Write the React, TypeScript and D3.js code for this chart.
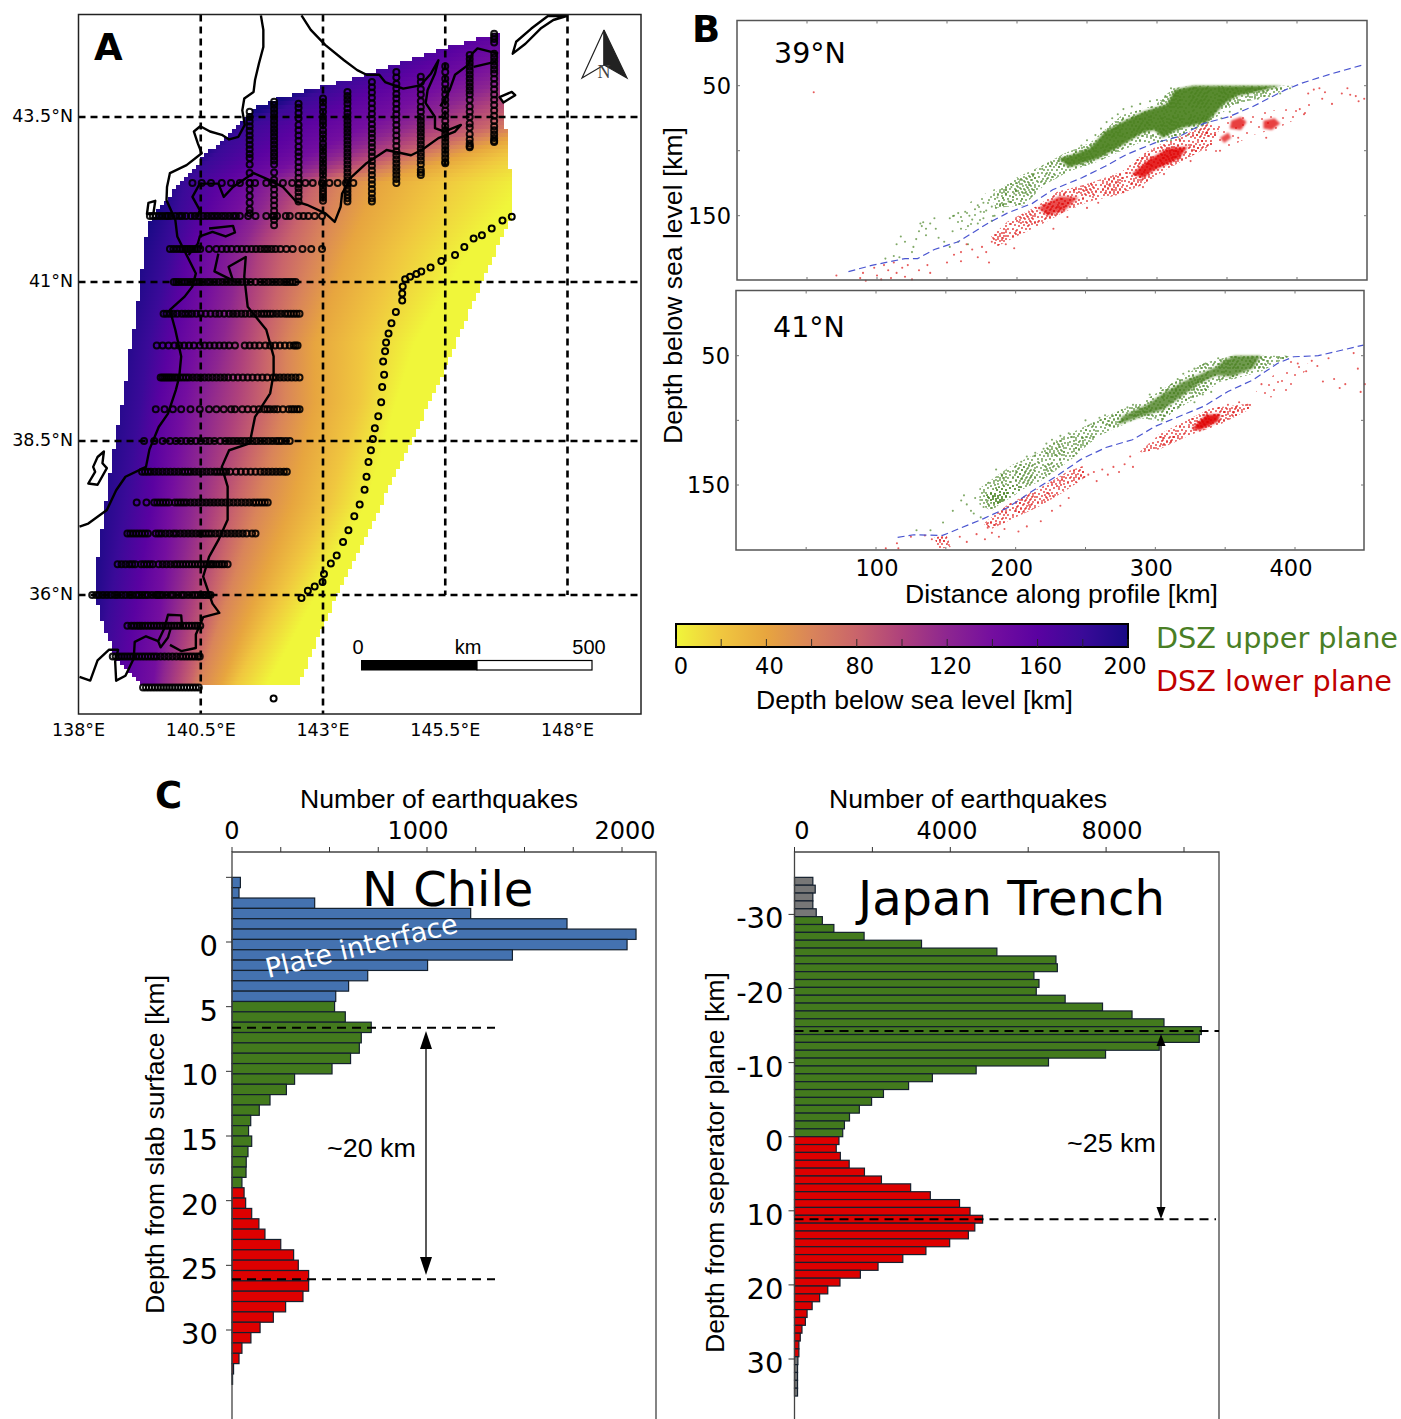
import React from "react";
import * as d3 from "d3";

type P = [number, number];

// ---------- Panel A data ----------
const lonTicks = [138, 140.5, 143, 145.5, 148];
const latTicks = [43.5, 41, 38.5, 36];
const depthLevels = [200, 180, 160, 140, 120, 100, 80, 60, 40, 20, 0];
const depthColours = ["#180a85", "#3a0a98", "#5a02a1", "#740e9f", "#8d2690", "#ae417c", "#c9646b", "#d9845a", "#e7a53f", "#f0c73f", "#f0f63a"];
const fieldLats = [35.5, 37.49, 39.09, 40.03, 41.48, 42.49, 43.35, 44.4];
const isoLons = [
  [138.2, 138.58, 139.11, 139.64, 139.91, 140.25, 140.59, 140.86, 141.39, 141.84, 142.52],
  [138.28, 138.96, 139.49, 139.87, 140.33, 140.78, 141.23, 141.69, 142.37, 143.13, 143.89],
  [138.51, 139.27, 139.64, 140.17, 140.63, 141.23, 141.77, 142.22, 142.83, 143.73, 144.49],
  [138.74, 139.42, 139.87, 140.4, 140.93, 141.39, 141.84, 142.26, 142.83, 143.81, 144.87],
  [139.19, 139.87, 140.25, 140.78, 141.31, 141.69, 142.22, 142.83, 143.51, 144.57, 146.01],
  [139.8, 140.17, 140.86, 141.54, 141.99, 142.45, 142.83, 143.36, 144.11, 145.4, 147.14],
  [141.01, 141.39, 142.52, 143.81, 144.64, 145.4, 146.31, 146.92, 147.52, 148.1, 149.19],
  [143.89, 144.42, 145.4, 146.58, 147.67, 148.43, 149.04, 149.64, 150.33, 151.08, 152.22],
];
const fieldOutline: P[] = [[146.58,44.77],[145.86,44.62],[145.17,44.47],[144.49,44.29],[144,44.18],[143.55,44.06],[142.67,43.91],[142.14,43.79],[141.61,43.65],[141.38,43.49],[141.02,43.18],[140.63,42.95],[140.26,42.65],[139.79,42.24],[139.42,41.89],[139.3,41.18],[139.16,40.36],[138.99,39.73],[138.97,39.41],[138.77,38.56],[138.58,37.65],[138.36,36.41],[138.32,36.03],[138.54,35.42],[138.81,34.92],[139.26,34.58],[139.34,34.5],[142.49,34.5],[142.98,35.47],[143.35,36.08],[144.04,37.22],[144.76,38.4],[145.47,39.59],[146.09,40.72],[146.89,42.05],[146.89,42.39],[146.8,42.85],[146.76,43.2],[146.64,43.94]];

const coastWest: P[] = [[141.73,45.04],[141.78,44.82],[141.78,44.56],[141.69,44.31],[141.61,44.06],[141.58,43.88],[141.39,43.78],[141.35,43.6],[141.4,43.38],[141.27,43.2],[141.08,43.16],[140.93,43.23],[140.69,43.28],[140.49,43.36],[140.36,43.28],[140.44,43.1],[140.52,42.95],[140.21,42.77],[139.87,42.65],[139.81,42.44],[139.8,42.24],[139.98,41.94],[140.02,41.69],[140.21,41.41],[140.4,41.13],[140.33,40.93],[140.17,40.77],[139.87,40.56],[139.98,40.25],[140.1,39.83],[140.06,39.51],[139.99,39.3],[139.83,38.93],[139.64,38.72],[139.45,38.36],[139.38,38.08],[138.96,37.92],[138.77,37.7],[138.58,37.38],[138.2,37.16],[138.02,37.11]];
const coastNorth: P[] = [[142.56,45.04],[142.75,44.82],[143.05,44.59],[143.43,44.36],[143.7,44.21],[143.89,44.14],[144.15,44.14],[144.27,44.03],[144.64,43.93],[144.99,43.98],[145.21,44.16],[145.36,44.36],[145.29,44.16],[145.14,43.91],[145.1,43.71],[145.29,43.5],[145.29,43.33],[145.48,43.28],[145.82,43.38],[145.7,43.28],[145.36,43.18],[145.02,43],[144.8,42.92],[144.3,43],[143.89,42.8],[143.58,42.59],[143.39,42.34],[143.36,42.14],[143.24,41.91],[143.05,42.04],[142.67,42.17],[142.45,42.22],[142.18,42.44],[141.92,42.54],[141.58,42.65],[141.16,42.44],[140.97,42.29],[140.86,42.49],[140.48,42.49],[140.33,42.29],[140.48,42.09],[140.44,41.99]];
const coastMutsu: P[] = [[140.67,41.81],[141.16,41.85],[141.2,41.75],[141.01,41.69],[140.74,41.76],[140.48,41.69],[140.44,41.58],[140.25,41.41]];
const coastEast: P[] = [[140.86,41.43],[140.78,41.16],[141.16,41.02],[141.07,41.23],[141.42,41.38],[141.39,41.08],[141.46,40.61],[141.84,40.25],[141.99,39.83],[141.99,39.56],[141.92,39.25],[141.61,38.88],[141.5,38.46],[141.08,38.35],[140.93,38.08],[141.05,37.76],[141.05,37.22],[140.86,36.89],[140.67,36.62],[140.55,36.3],[140.74,35.86],[140.88,35.71],[140.55,35.64],[140.4,35.36],[140.4,35.14],[140.1,35.09],[139.87,35.19]];
const coastBay: P[] = [[140.12,35.47],[140.1,35.67],[139.83,35.68],[139.76,35.47],[139.63,35.25],[139.68,35.15],[139.83,35.31],[139.89,35.47]];
const coastIzu: P[] = [[139.63,35.25],[139.38,35.33],[139.15,35.24],[139.13,34.97],[138.96,34.69],[138.77,34.61],[138.75,34.92],[138.81,35.11],[138.62,35.11],[138.39,34.94],[138.24,34.61],[138.02,34.67]];
const coastNemuro: P[] = [[146.58,44.46],[146.16,44.54],[146.05,44.46],[145.97,44.29],[145.7,44.14],[145.59,43.91],[145.4,43.66]];
const coastNemuro2: P[] = [[146.54,44.34],[146.08,44.26]];
const islandSado: P[] = [[138.52,38.33],[138.39,38.24],[138.3,38.08],[138.34,38],[138.2,37.81],[138.39,37.79],[138.58,38.06],[138.49,38.14]];
const islandKunashir: P[] = [[146.88,44.46],[146.95,44.64],[147.26,44.84],[147.6,45.03],[147.98,45.03],[147.71,44.97],[147.45,44.84],[147.14,44.61]];
const islandSmall: P[] = [[146.61,43.8],[146.86,43.88],[146.93,43.83],[146.69,43.72]];
const islandRishiri: P[] = [[139.43,42.2],[139.57,42.23],[139.53,42.03],[139.4,42.03]];
const openCoasts = [coastWest, coastNorth, coastMutsu, coastEast, coastBay, coastIzu, coastNemuro, coastNemuro2];
const closedCoasts = [islandSado, islandKunashir, islandSmall, islandRishiri];

const trench: P[] = [[146.86,41.99],[146.67,41.93],[146.45,41.81],[146.25,41.71],[146.08,41.66],[145.89,41.53],[145.7,41.41],[145.42,41.32],[145.2,41.22],[145.01,41.16],[144.91,41.12],[144.78,41.08],[144.68,41.04],[144.63,40.93],[144.62,40.82],[144.62,40.71],[144.49,40.53],[144.4,40.35],[144.34,40.19],[144.29,40.05],[144.27,39.91],[144.23,39.75],[144.25,39.54],[144.21,39.35],[144.19,39.11],[144.13,38.89],[144.06,38.7],[144.02,38.53],[143.98,38.35],[143.93,38.16],[143.89,37.92],[143.85,37.71],[143.75,37.47],[143.64,37.28],[143.52,37.05],[143.41,36.86],[143.28,36.64],[143.16,36.51],[143.02,36.34],[142.99,36.21],[142.83,36.14],[142.69,36.07],[142.56,35.95],[141.99,34.32]];

const profileRowLats = [42.5, 42, 41.5, 41, 40.5, 40, 39.5, 39, 38.5, 38, 37.5, 37, 36.5, 36, 35.5, 35, 34.5];
const profileRowLons = [
  [140.33,140.52,140.71,140.93,141.12,141.3,141.5,141.61,141.84,141.98,142.18,142.37,142.51,142.64,142.79,142.98,143.13,143.3,143.47,143.62],
  [139.46,139.52,139.58,139.65,139.72,139.79,139.83,139.89,139.98,140.06,140.12,140.2,140.3,140.38,140.46,140.55,140.63,140.71,140.78,140.85,140.93,141,141.08,141.16,141.22,141.3,141.47,141.62,141.84,141.98,142.06,142.24,142.32,142.5,142.6,142.7,142.83,142.98],
  [139.87,139.94,140.01,140.08,140.13,140.18,140.23,140.28,140.33,140.38,140.43,140.49,140.67,140.82,140.93,141.03,141.13,141.24,141.34,141.44,141.54,141.63,141.72,141.8,141.87,141.95,142.03,142.13,142.25,142.38,142.58,142.76,142.98],
  [139.95,140,140.05,140.11,140.17,140.23,140.29,140.35,140.41,140.48,140.55,140.63,140.7,140.78,140.86,140.94,141.02,141.1,141.18,141.26,141.34,141.43,141.52,141.62,141.72,141.8,141.88,141.96,142.04,142.12,142.2,142.26,142.32,142.38,142.44],
  [139.74,139.8,139.87,139.94,140.02,140.11,140.18,140.25,140.32,140.41,140.5,140.6,140.7,140.8,140.88,140.98,141.08,141.16,141.24,141.33,141.41,141.5,141.58,141.66,141.74,141.8,141.86,141.92,141.98,142.06,142.14,142.22,142.28,142.34,142.4,142.46,142.52],
  [139.6,139.72,139.84,139.96,140.06,140.16,140.26,140.36,140.48,140.58,140.68,140.78,140.88,140.98,141.08,141.2,141.4,141.5,141.6,141.7,141.82,141.92,142.02,142.12,142.22,142.32,142.4,142.44,142.48],
  [139.68,139.72,139.76,139.8,139.84,139.88,139.92,139.97,140.02,140.08,140.14,140.2,140.26,140.34,140.42,140.5,140.58,140.66,140.74,140.82,140.9,140.98,141.06,141.16,141.26,141.36,141.46,141.56,141.66,141.76,141.86,141.98,142.04,142.12,142.2,142.28,142.36,142.44,142.52],
  [139.58,139.76,139.93,140.1,140.29,140.48,140.67,140.82,140.97,141.12,141.2,141.35,141.46,141.58,141.69,141.8,141.86,141.92,142,142.07,142.18,142.3,142.36,142.41,142.47,142.52],
  [139.34,139.55,139.72,139.87,139.99,140.1,140.2,140.3,140.4,140.5,140.6,140.68,140.78,140.9,141,141.08,141.16,141.24,141.32,141.4,141.48,141.56,141.64,141.72,141.8,141.88,141.96,142.04,142.1,142.16,142.24,142.32],
  [139.3,139.36,139.42,139.48,139.56,139.64,139.72,139.8,139.88,139.96,140.04,140.12,140.18,140.24,140.3,140.38,140.46,140.54,140.62,140.7,140.78,140.84,140.9,140.96,141.02,141.1,141.22,141.32,141.42,141.52,141.62,141.72,141.8,141.88,141.96,142.04,142.12,142.2,142.26],
  [139.19,139.39,139.55,139.61,139.67,139.73,139.79,139.85,139.97,140.03,140.09,140.15,140.21,140.29,140.37,140.45,140.53,140.61,140.69,140.77,140.85,140.93,141.01,141.09,141.17,141.25,141.33,141.41,141.49,141.57,141.63,141.69,141.75,141.81,141.87],
  [139,139.06,139.12,139.18,139.24,139.3,139.36,139.42,139.58,139.64,139.7,139.78,139.86,139.94,140,140.08,140.16,140.24,140.32,140.4,140.48,140.54,140.6,140.66,140.72,140.8,140.88,140.96,141.04,141.12,141.2,141.28,141.36,141.44,141.55,141.62],
  [138.8,138.88,138.96,139.04,139.1,139.16,139.28,139.34,139.4,139.46,139.52,139.64,139.72,139.8,139.88,139.96,140.02,140.08,140.14,140.2,140.26,140.32,140.38,140.44,140.5,140.56,140.62,140.68,140.72,140.76,140.82,140.88,140.93,140.98,141.05],
  [138.28,138.36,138.42,138.5,138.58,138.66,138.74,138.8,138.88,138.96,139.04,139.1,139.18,139.24,139.3,139.36,139.42,139.5,139.58,139.62,139.66,139.72,139.8,139.88,139.94,140.02,140.1,140.16,140.24,140.32,140.38,140.44,140.5,140.56,140.6,140.66,140.7],
  [139,139.08,139.14,139.2,139.25,139.3,139.36,139.42,139.48,139.54,139.6,139.66,139.72,139.78,139.84,139.9,139.96,140.02,140.08,140.14,140.2,140.26,140.32,140.38,140.43,140.49],
  [138.7,138.76,138.82,138.88,138.94,139,139.06,139.12,139.18,139.24,139.3,139.36,139.42,139.48,139.54,139.6,139.68,139.76,139.84,139.92,140,140.08,140.14,140.2,140.26,140.32,140.38,140.44,140.48],
  [139.32,139.38,139.44,139.5,139.56,139.62,139.68,139.74,139.8,139.86,139.92,139.98,140.04,140.1,140.16,140.22,140.28,140.34,140.4,140.46],
];
const profileColLons = [141.5, 142, 142.5, 143, 143.5, 144, 144.5, 145, 145.5, 146, 146.5];
const profileColLats = [
  [43.58,43.5,43.43,43.36,43.29,43.22,43.15,43.08,43.01,42.94,42.88,42.78,42.65,42.5,42.4,42.3,42.2,42.1,42.04],
  [43.73,43.68,43.62,43.56,43.5,43.44,43.38,43.32,43.26,43.2,43.14,43.08,43.02,42.96,42.9,42.84,42.78,42.66,42.55,42.48,42.4,42.32,42.24,42.16,42.08,42,41.94,41.86],
  [43.7,43.64,43.56,43.48,43.38,43.3,43.22,43.14,43.05,42.97,42.9,42.82,42.74,42.66,42.58,42.48,42.42,42.36,42.29,42.22],
  [43.78,43.72,43.65,43.58,43.5,43.44,43.38,43.3,43.24,43.17,43.1,43.04,42.98,42.92,42.86,42.8,42.74,42.68,42.62,42.55,42.49,42.43,42.38,42.33,42.28,42.23],
  [43.88,43.82,43.76,43.7,43.63,43.56,43.5,43.44,43.38,43.32,43.26,43.2,43.14,43.08,43.02,42.96,42.9,42.84,42.78,42.72,42.66,42.6,42.54,42.48,42.42,42.37,42.32,42.27,42.22],
  [44.03,43.95,43.87,43.79,43.71,43.63,43.55,43.47,43.39,43.32,43.25,43.18,43.11,43.04,42.97,42.9,42.83,42.76,42.69,42.62,42.55,42.48,42.41,42.34,42.27,42.22],
  [44.18,44.1,44,43.93,43.85,43.78,43.7,43.62,43.54,43.46,43.38,43.3,43.22,43.14,43.06,42.98,42.92,42.86,42.8,42.74,42.68,42.62,42.56,42.5],
  [44.11,44.03,43.92,43.84,43.74,43.65,43.58,43.5,43.44,43.38,43.32,43.26,43.2,43.14,43.08,43.02,42.96,42.9,42.84,42.78,42.7,42.66,42.62],
  [44.27,44.18,44.08,44,43.92,43.84,43.76,43.68,43.6,43.52,43.44,43.36,43.3,43.24,43.18,43.12,43.06,43,42.94,42.88,42.82,42.8],
  [44.44,44.38,44.32,44.26,44.2,44.14,44.08,44.02,43.96,43.9,43.84,43.76,43.66,43.58,43.5,43.4,43.34,43.24,43.16,43.1,43.06,43.04],
  [44.76,44.72,44.68,44.63,44.46,44.4,44.34,44.28,44.22,44.16,44.08,44,43.92,43.84,43.76,43.68,43.6,43.52,43.44,43.36,43.3,43.24,43.18,43.14,43.12],
];

// ---------- Panel B data ----------
const profileTicksKm = [100, 200, 300, 400];
const profileMinorKm = [50, 100, 150, 200, 250, 300, 350, 400];
const profileDepths = [50, 100, 150];
const sep39: P[] = [[79.6,193],[97,188],[120,183],[129,183],[141,176],[158,170],[179,156],[193,148],[211,140.5],[225.5,130],[246,121],[263,112],[278,103],[298.5,94],[316,89],[333.5,79],[351,74],[368.5,66],[392,53],[403.5,48],[424,41],[447,34]];
const sep41: P[] = [[115.5,190.5],[127,188.5],[147.7,189],[159,184],[177,176],[194.5,167.4],[212,154.6],[229.5,143],[247,130],[264.6,121],[283.6,115],[300,104.6],[317,97],[335,89],[352,77.7],[370,68.7],[387.4,56],[399,50.8],[416.7,50],[434,45.6],[449,41.8]];

// Cloud envelopes: where the picture's points merge, as km/depth outlines
const upperCore39: P[] = [[230,106],[240,103],[252,98],[263,85],[275,78],[290,70],[307,64],[313,53],[326,50],[374,50],[389,50],[374,54],[357,58],[348,64],[336,78],[316,83],[304,90],[298,84],[290,86],[275,96],[258,106],[237,113]];
const upperCloud39: P[] = [[181.7,134],[199,121],[217,112],[234,102],[252,94],[275,72.6],[298.5,65],[311.6,52],[325,50],[398,50],[383,57],[354,65],[336.4,79],[304,94],[287,94],[257.6,108.5],[237,116],[220,126],[205,142],[184.6,144]];
const upperThin39: P[] = [[152.5,149.5],[170,137],[184.6,129],[199,123],[205,139],[187.6,149.5],[176,156],[161,162]];
const lowerCloud39: P[] = [[181.7,166],[193,154.6],[213.8,143],[228.4,131.8],[251.8,125],[275,116],[289.7,103],[304,94],[324.7,85.4],[336.4,79],[345,83],[339,95.6],[321.6,106],[304,116],[289.7,126.4],[272,134],[251.8,139],[234,147],[217,157],[199.6,166],[185,174]];
const lowerThin39: P[] = [[330.6,85],[354,72.6],[374.4,70],[398,67.4],[410,57],[410,70],[386,83],[368.5,88],[345,101],[333.5,103]];
const lowerDense39a: P[] = [[282,118],[294,107],[308,98],[322,97],[316,106],[298,115],[290,121]];
const lowerDense39b: P[] = [[215,144],[230,135],[244,136],[234,146],[222,150]];
const lowerDense39c: P[] = [[353,77],[360,74],[364,78],[360,84],[352,83]];
const lowerDense39d: P[] = [[376,77],[384,75],[388,79],[382,84],[376,83]];
const lowerDense39e: P[] = [[345,90],[351,86],[353,90],[348,94]];
const upperCore41: P[] = [[349.4,53.3],[356.7,50],[375.7,50],[369.9,59.7],[355.3,66],[343.6,65.4],[331.9,71.3],[317.3,82.8],[305.6,91.8],[293.9,95.6],[273.4,103.3],[276.3,96.9],[293.9,88],[305.6,79],[320.2,70],[331.9,64.4],[343.6,58.5]];
const upperCloud41: P[] = [[174,152.5],[197.4,134.6],[217.8,124.4],[229.5,115],[247,106],[270.4,94.4],[290.9,85.4],[314.3,70],[334.8,55.9],[355.3,50],[396.2,50],[375.7,62.3],[358.2,67.4],[346.5,70],[329,82.8],[311.4,94.4],[305.6,100.8],[288,98.2],[258.8,112.3],[238.3,131.6],[217.8,147],[197.4,157.2],[182.8,170],[174,165]];
const upperBlob41: P[] = [[177,159.7],[185.7,152],[200,149.5],[206,152],[197,159.7],[185.7,166]];
const lowerDense41: P[] = [[326,106.4],[336.3,95.6],[346.5,95],[345,100.8],[331.9,107.7]];
const lowerCloud41a: P[] = [[176.9,180],[194.4,165],[217.8,152],[238.3,139],[248.3,135.4],[250,144],[235.4,154.6],[217.8,166],[200.3,175],[182.7,184]];
const lowerCloud41b: P[] = [[288,125],[302.6,111],[326,98],[340.6,90.5],[370,86.7],[367,91.8],[346.5,103.3],[326,111],[302.6,122.6]];
const lowerThin41: P[] = [[370,80],[387.4,62],[399,52],[411,57],[399,72.6],[390,82.8],[372.8,81.5]];
const lowerBlob41: P[] = [[141.8,190.5],[150.6,189],[153.5,198],[144.7,199.5]];

const upper39: P[] = [[106,183],[112,181],[116,182],[114,172],[117,166],[120,170],[126,174],[125,178],[131,156],[132,158],[133,155],[135,160],[138,156],[141,152],[142,160],[135,165],[144,167],[130,162],[128,168],[148,170],[152,152],[155,150],[158,148],[160,151],[163,147],[166,150],[168,153],[170,145],[172,142],[174,147],[176,140],[178,146],[180,138],[182,143],[184,150],[186,136],[188,141],[190,147],[192,133],[194,139],[160,160],[165,158],[172,156],[176,152],[182,154],[154,162],[158,170],[165,172],[152,174],[196,128],[198,133],[200,125],[212,118],[218,114],[224,112],[230,108],[236,104],[242,101],[246,96],[250,92],[256,88],[260,83],[264,78],[268,75],[272,72],[276,68],[282,66],[288,64],[295,62],[300,61],[306,58],[310,52],[372,60],[380,58],[388,56],[395,52],[360,68],[352,70],[346,75],[340,72],[330,86],[322,88],[316,91],[310,92]];
const lower39: P[] = [[54.8,55],[71,196],[88,198],[90,194],[92,200],[98,190],[100,196],[103,199],[105,188],[108,192],[110,198],[112,186],[114,194],[118,190],[120,197],[122,188],[125,199],[130,192],[136,188],[138,194],[150,186],[155,180],[160,178],[160,185],[164,172],[168,176],[172,182],[175,174],[178,178],[182,170],[180,186],[192,172],[198,175],[226,160],[236,151],[250,144],[258,140],[276,132],[290,128],[305,118],[324,108],[345,100],[358,90],[378,90],[402,68],[405,72],[408,56],[412,53],[416,52],[418,60],[420,55],[425,64],[432,56],[436,52],[438,57],[442,58],[444,62],[448,60]];
const upper41: P[] = [[129,185],[139,185],[148,179],[155,170],[161,162],[165,165],[168,170],[171,160],[177,167],[180,162],[163,158],[170,172],[175,175],[186,138],[190,142],[196,140],[204,132],[208,128],[214,125],[220,122],[222,118],[226,115],[232,112],[238,110],[250,100],[256,102],[260,98],[264,96],[276,92],[280,90],[284,88],[296,80],[304,75],[312,72],[316,68],[320,64],[324,62],[328,60],[332,58],[336,56],[300,98],[306,96],[318,88],[322,84],[328,86],[334,80],[340,78],[345,52],[342,56],[388,52],[394,51]];
const lower41: P[] = [[107,199],[115,195],[116,199],[125,190],[135,189],[140,192],[160,190],[165,194],[172,188],[178,192],[180,183],[183,187],[186,180],[188,190],[192,184],[202,186],[208,182],[218,178],[226,170],[232,166],[238,160],[252,142],[256,140],[258,147],[262,138],[266,142],[270,136],[274,140],[278,134],[282,128],[284,136],[352,88],[356,94],[360,86],[362,92],[366,88],[376,72],[402,56],[408,62],[412,54],[416,58],[420,70],[424,52],[428,68],[432,75],[436,72],[445,60],[442,48],[447,78],[450,72]];

// Stipple tiles used to texture the clouds
const stippleThin: P[] = [[3,5],[11,2],[19,7],[28,3],[36,8],[7,13],[15,15],[24,12],[33,16],[2,21],[11,24],[20,20],[29,25],[38,22],[6,30],[16,31],[25,33],[34,30],[3,38],[13,37],[22,39],[31,37]];
const stippleThick: P[] = [[1,2],[5,1],[9,3],[14,2],[18,1],[3,5],[7,6],[12,5],[16,6],[20,4],[1,9],[5,10],[10,8],[14,9],[18,9],[3,13],[8,12],[12,13],[16,12],[20,13],[1,16],[6,15],[10,16],[14,16],[18,16],[4,19],[8,19],[12,20],[16,19],[20,20]];

// ---------- Colour bar ----------
const cbarTicks = [0, 20, 40, 60, 80, 100, 120, 140, 160, 180, 200];
const cbarLabels = [0, 40, 80, 120, 160, 200];

// ---------- Panel C data ----------
const chileBlue = [43,36,424,1224,1718,2072,2026,1438,1003,696,598,532];
const chileGreen = [526,581,714,663,653,608,513,321,279,195,140,96,85,101,82,73,72,51];
const chileRed = [62,70,101,138,169,250,316,340,393,393,364,275,212,144,97,51,36,8,3];
const chileDepthTicks = [0, 5, 10, 15, 20, 25, 30];
const chileCountTicks = [0,250,500,750,1000,1250,1500,1750,2000];
const japanGreyTop = [471,532,471,471,558];
const japanGreen = [715,1011,1787,3261,5196,6713,6748,6147,6277,6207,6949,7908,8666,9486,10445,10392,9364,7986,6521,4664,3540,2929,2284,1979,1665,1412,1282,1238];
const japanRed = [1142,1072,1177,1404,1796,2232,2982,3487,4237,4507,4830,4629,4464,3984,3374,2781,2145,1691,1168,854,645,453,323,279,192,148,113,113];
const japanGreyBottom = [87,78,78,78,78];
const japanDepthTicks = [-30,-20,-10,0,10,20,30];
const japanCountTicks = [0,2000,4000,6000,8000,10000];

// ---------- Scales ----------
const lonX = d3.scaleLinear().domain([138, 148]).range([78.5, 567.5]);
const latY = d3.scaleLinear().domain([36, 38.5, 41, 43.5]).range([595, 441, 282, 117]);
const geoLine = d3.line<P>().x((d) => lonX(d[0])).y((d) => latY(d[1]));
const cmap = d3.scaleLinear<string>().domain(depthLevels).range(depthColours);

const km39 = d3.scaleLinear().domain([0, 450]).range([737, 1367]);
const dep39 = d3.scaleLinear().domain([50, 150]).range([85.7, 215.7]);
const km41 = d3.scaleLinear().domain([100, 400]).range([876, 1295]);
const dep41 = d3.scaleLinear().domain([50, 150]).range([355.7, 485]);

const cbarX = d3.scaleLinear().domain([0, 200]).range([676, 1128]);

const chileX = d3.scaleLinear().domain([0, 2000]).range([232, 622]);
const chileY = d3.scaleLinear().domain([0, 30]).range([942, 1330]);
const japanX = d3.scaleLinear().domain([0, 10000]).range([794.5, 1184]);
const japanY = d3.scaleLinear().domain([0, 30]).range([1136.7, 1359]);

const SANS = "'Liberation Sans', Arial, sans-serif";
const DEJA = "'DejaVu Sans', sans-serif";
const GREEN = "#4a8526";
const RED = "#dd1515";

// ---------- Field strips ----------
function stripsOf() {
  const levelScales = depthLevels.map((_, j) =>
    d3.scaleLinear().domain(fieldLats).range(isoLons.map((r) => r[j]))
  );
  const poly = fieldOutline.map((p) => [lonX(p[0]), latY(p[1])]);
  const h = 4;
  const out: { y: number; x0: number; x1: number; stops: number[] }[] = [];
  for (let y = 33; y < 685; y += h) {
    const yc = y + h / 2;
    const xs: number[] = [];
    poly.forEach((a, i) => {
      const b = poly[(i + 1) % poly.length];
      if ((a[1] <= yc && b[1] > yc) || (b[1] <= yc && a[1] > yc)) {
        xs.push(a[0] + ((yc - a[1]) / (b[1] - a[1])) * (b[0] - a[0]));
      }
    });
    if (xs.length < 2) continue;
    const snap = (v: number) => Math.round(v / h) * h;
    const lat = latY.invert(yc);
    out.push({
      y,
      x0: snap(d3.min(xs)!),
      x1: snap(d3.max(xs)!),
      stops: levelScales.map((s) => lonX(s(lat))),
    });
  }
  return out;
}
const strips = stripsOf();

type Sc = (v: number) => number;
function Scatter({ pts, x, y, fill }: { pts: P[]; x: Sc; y: Sc; fill: string }) {
  return (
    <g fill={fill} fillOpacity={0.7}>
      {pts.map((p, i) => (
        <circle key={i} cx={x(p[0])} cy={y(p[1])} r={1.05} />
      ))}
    </g>
  );
}
function closed(pts: P[], x: Sc, y: Sc) {
  return d3.line<P>().x((p) => x(p[0])).y((p) => y(p[1])).curve(d3.curveLinearClosed)(pts)!;
}
function Core({ pts, x, y, fill, o }: { pts: P[]; x: Sc; y: Sc; fill: string; o: number }) {
  return <path d={closed(pts, x, y)} fill={fill} fillOpacity={o} filter="url(#soft)" />;
}
function Cloud({ pts, x, y, pattern }: { pts: P[]; x: Sc; y: Sc; pattern: string }) {
  const d = closed(pts, x, y);
  const thick = pattern.endsWith("Thick");
  return (
    <g>
      <path d={d} fill={`url(#${pattern})`} />
      {thick && <path d={d} fill={`url(#${pattern}Off)`} />}
      {thick && <path d={d} fill={`url(#${pattern.replace("Thick", "Thin")})`} />}
    </g>
  );
}
function Tile({ id, size, dots, fill, r, o }: { id: string; size: number; dots: P[]; fill: string; r: number; o: number }) {
  return (
    <pattern id={id} patternUnits="userSpaceOnUse" width={size} height={size}>
      {dots.map((p, i) => (
        <circle key={i} cx={p[0]} cy={p[1]} r={r} fill={fill} fillOpacity={o} />
      ))}
    </pattern>
  );
}

function ProfilePanel(props: {
  left: number; right: number; top: number; bottom: number; title: string; titleY: number;
  x: Sc; y: Sc; sep: P[];
  children: React.ReactNode;
}) {
  const { left, right, top, bottom, title, titleY, x, y, sep } = props;
  const sepD = d3.line<P>().x((p) => x(p[0])).y((p) => y(p[1]))(sep)!;
  return (
    <g>
      <rect x={left} y={top} width={right - left} height={bottom - top} fill="#fff" />
      {props.children}
      <path d={sepD} fill="none" stroke="#4a55d0" strokeWidth={1.2} strokeDasharray="7 4" />
      <rect x={left} y={top} width={right - left} height={bottom - top} fill="none" stroke="#555" strokeWidth={1.5} />
      {profileMinorKm.map((k) => (
        <g key={k} stroke="#777" strokeWidth={1}>
          <line x1={x(k)} x2={x(k)} y1={bottom} y2={bottom - 3} />
          <line x1={x(k)} x2={x(k)} y1={top} y2={top + 3} />
        </g>
      ))}
      {profileDepths.map((k) => (
        <g key={k} stroke="#777" strokeWidth={1}>
          <line x1={left} x2={left + 3} y1={y(k)} y2={y(k)} />
          <line x1={right} x2={right - 3} y1={y(k)} y2={y(k)} />
        </g>
      ))}
      {[50, 150].map((k) => (
        <text key={k} x={left - 6} y={y(k) + 8} textAnchor="end" fontFamily={DEJA} fontSize={22.5}>{k}</text>
      ))}
      <text x={left + 37} y={titleY} fontFamily={DEJA} fontSize={28.5}>{title}</text>
    </g>
  );
}

function Histogram(props: {
  x: Sc; y: Sc; start: number; step: number;
  series: { values: number[]; fill: string }[];
  left: number; right: number; top: number; labelGap: number;
  depthTicks: number[]; countTicks: number[]; extraTick?: number;
}) {
  const { x, y, start, step, series, left, right, top, depthTicks, countTicks, extraTick, labelGap } = props;
  let idx = 0;
  const bars: React.ReactNode[] = [];
  series.forEach((s) => {
    s.values.forEach((v) => {
      const yTop = y(start + idx * step);
      const yBot = y(start + (idx + 1) * step);
      bars.push(
        <rect key={idx} x={x(0)} y={yTop} width={x(v) - x(0)} height={yBot - yTop} fill={s.fill} stroke="#14202e" strokeWidth={1.2} />
      );
      idx++;
    });
  });
  const allTicks = extraTick === undefined ? depthTicks : [extraTick, ...depthTicks];
  return (
    <g>
      {bars}
      <path d={`M${left},1419V${top}H${right}V1419`} fill="none" stroke="#444" strokeWidth={1.3} />
      {countTicks.map((c) => (
        <line key={c} x1={x(c)} x2={x(c)} y1={top} y2={top - 5} stroke="#333" strokeWidth={1} />
      ))}
      {allTicks.map((t) => (
        <line key={t} x1={left} x2={left - 6} y1={y(t)} y2={y(t)} stroke="#333" strokeWidth={1} />
      ))}
      {depthTicks.map((t) => (
        <text key={t} x={left - labelGap} y={y(t) + 14} textAnchor="end" fontFamily={DEJA} fontSize={29}>{t}</text>
      ))}
    </g>
  );
}

function Arrow({ x, y1, y2, head, half }: { x: number; y1: number; y2: number; head: number; half: number }) {
  return (
    <g>
      <line x1={x} x2={x} y1={y1 + head - 1} y2={y2 - head + 1} stroke="#000" strokeWidth={1.3} />
      <polygon points={`${x},${y1} ${x - half},${y1 + head} ${x + half},${y1 + head}`} fill="#000" />
      <polygon points={`${x},${y2} ${x - half},${y2 - head} ${x + half},${y2 - head}`} fill="#000" />
    </g>
  );
}

export default function App() {
  const frame = { l: 78.5, r: 641, t: 14.5, b: 714 };
  return (
    <svg width={1401} height={1419} viewBox="0 0 1401 1419" style={{ position: "absolute", left: 0, top: 0, display: "block", background: "#fff" }}>
      <defs>
        <clipPath id="mapClip"><rect x={frame.l} y={frame.t} width={frame.r - frame.l} height={frame.b - frame.t} /></clipPath>
        <filter id="soft" x="-15%" y="-15%" width="130%" height="130%"><feGaussianBlur stdDeviation={1.2} /></filter>
        <Tile id="greenThin" size={40} dots={stippleThin} fill={GREEN} r={1} o={0.7} />
        <Tile id="redThin" size={40} dots={stippleThin} fill={RED} r={1} o={0.7} />
        <Tile id="greenThick" size={22} dots={stippleThick} fill={GREEN} r={1.05} o={0.75} />
        <Tile id="redThick" size={22} dots={stippleThick} fill={RED} r={1.05} o={0.75} />
        <Tile id="greenThickOff" size={29} dots={stippleThick} fill={GREEN} r={1.05} o={0.7} />
        <Tile id="redThickOff" size={29} dots={stippleThick} fill={RED} r={1.05} o={0.7} />
        <linearGradient id="cbarGrad" gradientUnits="userSpaceOnUse" x1={cbarX(0)} x2={cbarX(200)} y1={0} y2={0}>
          {depthLevels.slice().reverse().map((d) => (
            <stop key={d} offset={d / 200} stopColor={cmap(d)} />
          ))}
        </linearGradient>
        {strips.map((s, i) => {
          const a = s.stops[0], b = s.stops[s.stops.length - 1];
          return (
            <linearGradient key={i} id={`st${i}`} gradientUnits="userSpaceOnUse" x1={a} x2={b} y1={0} y2={0}>
              {s.stops.map((v, j) => (
                <stop key={j} offset={(v - a) / (b - a)} stopColor={depthColours[j]} />
              ))}
            </linearGradient>
          );
        })}
      </defs>

      {/* Panel A */}
      <g shapeRendering="crispEdges">
        {strips.map((s, i) => (
          <rect key={i} x={s.x0} y={s.y} width={s.x1 - s.x0} height={4} fill={`url(#st${i})`} />
        ))}
      </g>
      <g clipPath="url(#mapClip)" fill="none" stroke="#000" strokeWidth={2.4} strokeLinejoin="round">
        {openCoasts.map((c, i) => <path key={i} d={geoLine(c)!} />)}
        {closedCoasts.map((c, i) => <path key={i} d={geoLine(c)! + "Z"} fill="#fff" />)}
      </g>
      <g stroke="#000" strokeWidth={2.6} strokeDasharray="7 5" fill="none">
        {latTicks.map((l) => <line key={l} x1={frame.l} x2={frame.r} y1={latY(l)} y2={latY(l)} />)}
        {[140.5, 143].map((l) => <line key={l} x1={lonX(l)} x2={lonX(l)} y1={frame.t} y2={frame.b} />)}
        {[145.5, 148].map((l) => <line key={l} x1={lonX(l)} x2={lonX(l)} y1={frame.t} y2={latY(36)} />)}
      </g>
      <g fill="none" stroke="#000" strokeWidth={2} strokeOpacity={0.9}>
        {profileRowLats.map((lat, i) => profileRowLons[i].map((lon, j) => (
          <circle key={`${i}-${j}`} cx={lonX(lon)} cy={latY(lat)} r={3} />
        )))}
        {profileColLons.map((lon, i) => profileColLats[i].map((lat, j) => (
          <circle key={`c${i}-${j}`} cx={lonX(lon)} cy={latY(lat)} r={3} />
        )))}
      </g>
      <g fill="none" stroke="#000" strokeWidth={2}>
        {trench.map((p, i) => <circle key={i} cx={lonX(p[0])} cy={latY(p[1])} r={3} />)}
      </g>
      <rect x={frame.l} y={frame.t} width={frame.r - frame.l} height={frame.b - frame.t} fill="none" stroke="#222" strokeWidth={1.5} />
      {latTicks.map((l) => (
        <text key={l} x={73} y={latY(l) + 5} textAnchor="end" fontFamily={DEJA} fontSize={17.5}>{`${l}°N`}</text>
      ))}
      {lonTicks.map((l) => (
        <text key={l} x={lonX(l)} y={736} textAnchor="middle" fontFamily={DEJA} fontSize={17.5}>{`${l}°E`}</text>
      ))}
      <text x={94} y={60} fontFamily={DEJA} fontWeight={700} fontSize={37}>A</text>
      <polygon points="604,30 582,78 604,65" fill="#fff" stroke="#222" strokeWidth={1.2} />
      <polygon points="604,30 627,78 604,65" fill="#222" stroke="#222" strokeWidth={1.2} />
      <text x={604} y={78} textAnchor="middle" fontFamily="'Liberation Serif', serif" fontSize={18} fill="#444">N</text>
      <rect x={361.5} y={660.5} width={115.5} height={9.5} fill="#000" stroke="#000" strokeWidth={1} />
      <rect x={477} y={660.5} width={115} height={9.5} fill="#fff" stroke="#000" strokeWidth={1.2} />
      <text x={358} y={654} textAnchor="middle" fontFamily={SANS} fontSize={20}>0</text>
      <text x={468} y={654} textAnchor="middle" fontFamily={SANS} fontSize={20}>km</text>
      <text x={589} y={654} textAnchor="middle" fontFamily={SANS} fontSize={20}>500</text>

      {/* Panel B */}
      <text x={692} y={42} fontFamily={DEJA} fontWeight={700} fontSize={37}>B</text>
      <ProfilePanel left={737} right={1367} top={20.5} bottom={280} title="39°N" titleY={63} x={km39} y={dep39} sep={sep39}>
        <Scatter pts={upper39} x={km39} y={dep39} fill={GREEN} />
        <Cloud pts={upperThin39} x={km39} y={dep39} pattern="greenThin" />
        <Cloud pts={upperCloud39} x={km39} y={dep39} pattern="greenThick" />
        <Core pts={upperCore39} x={km39} y={dep39} fill="#4a8020" o={0.92} />
        <Scatter pts={lower39} x={km39} y={dep39} fill={RED} />
        <Cloud pts={lowerThin39} x={km39} y={dep39} pattern="redThin" />
        <Cloud pts={lowerCloud39} x={km39} y={dep39} pattern="redThick" />
        <Core pts={lowerDense39a} x={km39} y={dep39} fill="#e00000" o={0.85} />
        <Core pts={lowerDense39b} x={km39} y={dep39} fill="#e00000" o={0.7} />
        <Core pts={lowerDense39c} x={km39} y={dep39} fill="#e00000" o={0.75} />
        <Core pts={lowerDense39d} x={km39} y={dep39} fill="#e00000" o={0.75} />
        <Core pts={lowerDense39e} x={km39} y={dep39} fill="#e00000" o={0.7} />
      </ProfilePanel>
      <ProfilePanel left={736} right={1364} top={290.5} bottom={550} title="41°N" titleY={337} x={km41} y={dep41} sep={sep41}>
        <Scatter pts={upper41} x={km41} y={dep41} fill={GREEN} />
        <Cloud pts={upperCloud41} x={km41} y={dep41} pattern="greenThick" />
        <Core pts={upperCore41} x={km41} y={dep41} fill="#4a8020" o={0.8} />
        <Cloud pts={upperBlob41} x={km41} y={dep41} pattern="greenThick" />
        <Scatter pts={lower41} x={km41} y={dep41} fill={RED} />
        <Cloud pts={lowerThin41} x={km41} y={dep41} pattern="redThin" />
        <Cloud pts={lowerBlob41} x={km41} y={dep41} pattern="redThick" />
        <Cloud pts={lowerCloud41a} x={km41} y={dep41} pattern="redThick" />
        <Cloud pts={lowerCloud41b} x={km41} y={dep41} pattern="redThick" />
        <Core pts={lowerDense41} x={km41} y={dep41} fill="#e00000" o={0.9} />
      </ProfilePanel>
      {profileTicksKm.map((k) => (
        <text key={k} x={km41(k) + (k === 100 ? 1 : -4)} y={576} textAnchor="middle" fontFamily={DEJA} fontSize={22.5}>{k}</text>
      ))}
      <text x={905} y={603} fontFamily={SANS} fontSize={26} textLength={313} lengthAdjust="spacingAndGlyphs">Distance along profile [km]</text>
      <text transform="translate(682,444) rotate(-90)" fontFamily={SANS} fontSize={26} textLength={317} lengthAdjust="spacingAndGlyphs">Depth below sea level [km]</text>

      {/* Colour bar */}
      <rect x={cbarX(0)} y={624} width={cbarX(200) - cbarX(0)} height={23} fill="url(#cbarGrad)" stroke="#000" strokeWidth={2} />
      {cbarTicks.map((t) => (
        <line key={t} x1={cbarX(t)} x2={cbarX(t)} y1={647} y2={639} stroke="#222" strokeWidth={0.9} />
      ))}
      {cbarLabels.map((t) => (
        <text key={t} x={cbarX(t) + (t === 0 ? 5 : t === 200 ? -3 : 3)} y={674} textAnchor="middle" fontFamily={DEJA} fontSize={22.5}>{t}</text>
      ))}
      <text x={756} y={709} fontFamily={SANS} fontSize={26} textLength={317} lengthAdjust="spacingAndGlyphs">Depth below sea level [km]</text>
      <text x={1156} y={648} fontFamily={DEJA} fontSize={28} fill="#4a7f25" textLength={242} lengthAdjust="spacingAndGlyphs">DSZ upper plane</text>
      <text x={1156} y={691} fontFamily={DEJA} fontSize={28} fill="#c00000" textLength={236} lengthAdjust="spacingAndGlyphs">DSZ lower plane</text>

      {/* Panel C */}
      <text x={155} y={808} fontFamily={DEJA} fontWeight={700} fontSize={37}>C</text>
      <Histogram
        x={chileX} y={chileY} start={-5} step={0.8} left={232} right={656} top={852} labelGap={14}
        series={[{ values: chileBlue, fill: "#4472b0" }, { values: chileGreen, fill: "#437a1d" }, { values: chileRed, fill: "#dd0000" }]}
        depthTicks={chileDepthTicks} countTicks={chileCountTicks} extraTick={-5}
      />
      <Histogram
        x={japanX} y={japanY} start={-35} step={70 / 66} left={794.5} right={1219} top={852} labelGap={11}
        series={[{ values: japanGreyTop, fill: "#777" }, { values: japanGreen, fill: "#437a1d" }, { values: japanRed, fill: "#dd0000" }, { values: japanGreyBottom, fill: "#777" }]}
        depthTicks={japanDepthTicks} countTicks={japanCountTicks}
      />
      {[[0, 232], [1000, 418], [2000, 625]].map(([t, x]) => (
        <text key={t} x={x} y={839} textAnchor="middle" fontFamily={DEJA} fontSize={24}>{t}</text>
      ))}
      {[[0, 802], [4000, 947], [8000, 1112]].map(([t, x]) => (
        <text key={t} x={x} y={839} textAnchor="middle" fontFamily={DEJA} fontSize={24}>{t}</text>
      ))}
      <text x={300} y={808} fontFamily={SANS} fontSize={26} textLength={278} lengthAdjust="spacingAndGlyphs">Number of earthquakes</text>
      <text x={829} y={808} fontFamily={SANS} fontSize={26} textLength={278} lengthAdjust="spacingAndGlyphs">Number of earthquakes</text>
      <text transform="translate(164,1314) rotate(-90)" fontFamily={SANS} fontSize={26} textLength={339} lengthAdjust="spacingAndGlyphs">Depth from slab surface [km]</text>
      <text transform="translate(724,1353) rotate(-90)" fontFamily={SANS} fontSize={26} textLength={381} lengthAdjust="spacingAndGlyphs">Depth from seperator plane [km]</text>
      <text x={362} y={906} fontFamily={DEJA} fontSize={48}>N Chile</text>
      <text x={858} y={915} fontFamily={DEJA} fontSize={48}>Japan Trench</text>
      <text transform="translate(268,978) rotate(-13.5)" fontFamily={DEJA} fontSize={27} fill="#fff">Plate interface</text>
      <g stroke="#000" strokeWidth={2} strokeDasharray="9 6" fill="none">
        <line x1={232} x2={495} y1={1027.7} y2={1027.7} />
        <line x1={232} x2={495} y1={1279.3} y2={1279.3} />
        <line x1={794.5} x2={1219} y1={1031} y2={1031} />
        <line x1={794.5} x2={1216} y1={1219.3} y2={1219.3} />
      </g>
      <Arrow x={426} y1={1031} y2={1275} head={18} half={6} />
      <Arrow x={1161} y1={1034} y2={1219} head={12} half={4.5} />
      <text x={327} y={1157} fontFamily={SANS} fontSize={26} textLength={89} lengthAdjust="spacingAndGlyphs">~20 km</text>
      <text x={1067} y={1152} fontFamily={SANS} fontSize={26} textLength={89} lengthAdjust="spacingAndGlyphs">~25 km</text>
    </svg>
  );
}
